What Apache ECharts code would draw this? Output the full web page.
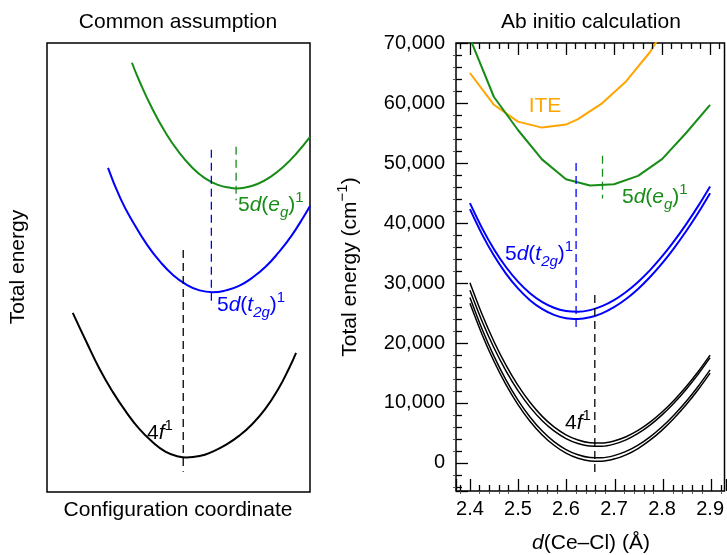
<!DOCTYPE html>
<html><head><meta charset="utf-8">
<script src="https://cdn.jsdelivr.net/npm/echarts@6/dist/echarts.min.js"></script>
<style>html,body{margin:0;padding:0;background:#fff}#c{width:727px;height:555px}</style>
</head><body><div id="c"></div>
<script>
// ---------- Left panel (schematic, normalized units 0..10) ----------
const schemeGreenX = [3.23,3.5,4.0,4.5,5.0,5.5,6.0,6.5,7.0,7.19,7.5,8.0,8.5,9.0,9.5,10];
const schemeGreenY = [9.56,9.17,8.54,8.01,7.58,7.24,6.99,6.84,6.77,6.76,6.775,6.86,7.02,7.25,7.55,7.91];
const schemeBlueX  = [2.32,2.8,3.3,3.8,4.3,4.8,5.3,5.8,6.3,6.8,7.3,7.8,8.3,8.8,9.3,9.8,10];
const schemeBlueY  = [7.22,6.53,5.98,5.51,5.13,4.83,4.62,4.49,4.45,4.49,4.59,4.77,5.01,5.33,5.71,6.17,6.37];
const schemeBlackX = [0.98,1.5,2.0,2.5,3.0,3.5,4.0,4.5,5.0,5.3,5.8,6.3,6.8,7.3,7.8,8.3,8.8,9.2,9.47];
const schemeBlackY = [3.99,3.34,2.74,2.23,1.79,1.41,1.12,0.90,0.79,0.77,0.80,0.90,1.05,1.25,1.51,1.85,2.30,2.75,3.10];
const schemeDropBlack = [[5.18,5.39],[5.18,0.45]];
const schemeDropBlue  = [[6.25,7.62],[6.25,4.16]];
const schemeDropGreen = [[7.19,7.69],[7.19,6.50]];

// ---------- Right panel (ab initio) ----------
const dCeCl = [2.400,2.425,2.450,2.475,2.500,2.525,2.550,2.575,2.600,2.625,2.650,2.675,2.700,2.725,2.750,2.775,2.800,2.825,2.850,2.875,2.900];
const f1a  = [30030,24820,20250,16300,12920,10110,7810,6010,4690,3820,3370,3330,3680,4380,5430,6810,8490,10460,12710,15210,17970];
const f1b  = [28780,23670,19200,15350,12050,9310,7080,5340,4070,3240,2810,2780,3140,3850,4920,6310,8010,9990,12260,14770,17550];
const f1c  = [27580,22370,17800,13850,10470,7660,5360,3560,2240,1370,920,880,1230,1930,2980,4360,6040,8010,10260,12760,15520];
const f1d  = [26630,21470,16950,13050,9730,6970,4720,2960,1650,780,340,300,650,1360,2410,3800,5480,7450,9700,12200,14970];
const t2gA = [43300,39180,35630,32660,30220,28290,26850,25870,25330,25210,25480,26140,27150,28500,30170,32150,34420,36970,39770,42810,46100];
const t2gB = [42300,38150,34570,31570,29100,27140,25680,24680,24130,24010,24280,24940,25960,27320,29000,30990,33260,35820,38620,41660,44950];
const egD = [2.40,2.45,2.50,2.55,2.60,2.65,2.70,2.75,2.80,2.85,2.90];
const egE = [70800,61000,55500,50600,47300,46250,46450,47850,50650,55000,59700];
const iteD = [2.40,2.45,2.50,2.55,2.60,2.625,2.675,2.725,2.775,2.825];
const iteE = [65000,59700,56900,55900,56400,57300,59950,63600,68500,75000];
const dropBlack = [[2.66,28000],[2.66,-1800]];
const dropBlue  = [[2.621,50000],[2.621,22000]];
const dropGreen = [[2.676,51200],[2.676,44100]];

const xTickLabels = [2.4,2.5,2.6,2.7,2.8,2.9];
const xMinorTicks = [2.38,2.42,2.44,2.46,2.48,2.52,2.54,2.56,2.58,2.62,2.64,2.66,2.68,2.72,2.74,2.76,2.78,2.82,2.84,2.86,2.88,2.92];
const yTickLabels = [0,10000,20000,30000,40000,50000,60000,70000];
const X_MIN = 2.371, X_MAX = 2.93, Y_MIN = -4670, Y_MAX = 70000;

const FONT = '"Liberation Sans", Arial, Helvetica, sans-serif';
const GREEN = '#178c17', BLUE = '#0000ff', ORANGE = '#ffa500', BLACK = '#000';

const zip = (xs, ys) => xs.map((x, i) => [x, ys[i]]);
const fmt = v => String(v).replace(/\B(?=(\d{3})+(?!\d))/g, ',');
const tickLS = { color: BLACK, width: 1.3 };

// Right-panel frame geometry
const R = { left: 456, top: 43, width: 270, height: 448 };
const MAJ = 12, MIN = 6;

// thin strips whose split lines act as the inside ticks (bottom and left)
const strips = [
  { dim: 'x', grid: { left: R.left, top: R.top + R.height - MAJ, width: R.width, height: MAJ }, minor: false },
  { dim: 'x', grid: { left: R.left, top: R.top + R.height - MIN, width: R.width, height: MIN }, minor: true },
  { dim: 'y', grid: { left: R.left, top: R.top, width: MAJ, height: R.height }, minor: false },
  { dim: 'y', grid: { left: R.left, top: R.top, width: MIN, height: R.height }, minor: true }
];

function tickAxis(gi, dim, minor) {
  const isX = dim === 'x';
  return {
    type: 'value', gridIndex: gi, show: true,
    min: isX ? X_MIN : Y_MIN, max: isX ? X_MAX : Y_MAX, splitNumber: isX ? 6 : 7,
    axisLine: { show: false, onZero: false }, axisTick: { show: false }, axisLabel: { show: false },
    minorTick: { show: minor, splitNumber: 5 },
    splitLine: { show: !minor, lineStyle: tickLS },
    minorSplitLine: { show: minor, lineStyle: tickLS }
  };
}
const hiddenAxis = (gi) => ({ type: 'value', gridIndex: gi, min: 0, max: 1, show: false });

const xAxes = [
  { type: 'value', gridIndex: 0, min: 0, max: 10, show: false },
  { type: 'value', gridIndex: 1, position: 'bottom', min: X_MIN, max: X_MAX,
    axisLine: { show: false, onZero: false }, axisTick: { show: false }, splitLine: { show: false },
    axisLabel: { show: true, customValues: xTickLabels, formatter: v => Number(v).toFixed(1),
      color: BLACK, fontSize: 20, fontFamily: FONT, margin: 8 } }
];
const yAxes = [
  { type: 'value', gridIndex: 0, min: 0, max: 10, show: false },
  { type: 'value', gridIndex: 1, position: 'left', min: Y_MIN, max: Y_MAX,
    axisLine: { show: false, onZero: false }, axisTick: { show: false }, splitLine: { show: false },
    axisLabel: { show: true, customValues: yTickLabels, formatter: v => fmt(v),
      color: BLACK, fontSize: 20, fontFamily: FONT, margin: 11 } }
];
const grids = [
  { left: 47, top: 43, width: 263, height: 449, show: true, borderColor: BLACK, borderWidth: 1.5 },
  { left: R.left, top: R.top, width: R.width, height: R.height, show: true, borderColor: BLACK, borderWidth: 1.5 }
];
strips.forEach((s) => {
  const gi = grids.length;
  grids.push(Object.assign({ show: false }, s.grid));
  if (s.dim === 'x') { xAxes.push(tickAxis(gi, 'x', s.minor)); yAxes.push(hiddenAxis(gi)); }
  else { yAxes.push(tickAxis(gi, 'y', s.minor)); xAxes.push(hiddenAxis(gi)); }
});

// mirrored top ticks, hanging down from the top frame (lengths converted from px to y units)
const unitsPerPx = (Y_MAX - Y_MIN) / R.height;
const topTick = (x, len) => [{ coord: [x, Y_MAX] }, { coord: [x, Y_MAX - len * unitsPerPx] }];
const topTicks = xTickLabels.map(x => topTick(x, MAJ)).concat(xMinorTicks.map(x => topTick(x, MIN)));

function line(xi, yi, data, color, width, smooth, dashed) {
  return { type: 'line', xAxisIndex: xi, yAxisIndex: yi, data, symbol: 'none', smooth: smooth,
    lineStyle: { color, width, type: dashed ? [8, 5] : 'solid' }, silent: true, animation: false, clip: true };
}

const richBase = (c) => ({
  n: { fontSize: 21, fontFamily: FONT, fill: c, lineHeight: 30 },
  i: { fontSize: 21, fontFamily: FONT, fontStyle: 'italic', fill: c, lineHeight: 30 },
  sub: { fontSize: 15, fontFamily: FONT, fontStyle: 'italic', fill: c, lineHeight: 16, verticalAlign: 'bottom' },
  sup: { fontSize: 15, fontFamily: FONT, fill: c, lineHeight: 14, verticalAlign: 'top' }
});
function rtext(x, y, text, color, align, rot) {
  return { type: 'text', x, y, rotation: rot || 0, silent: true, z: 100,
    style: { text, rich: richBase(color), fill: color, align: align || 'left', verticalAlign: 'middle', font: '21px ' + FONT } };
}

const egSeries = line(1, 1, zip(egD, egE), GREEN, 2, false);
egSeries.markLine = { silent: true, animation: false, symbol: ['none', 'none'], label: { show: false },
  lineStyle: { color: BLACK, width: 1.3, type: 'solid' }, emphasis: { disabled: true }, data: topTicks };

const chart = echarts.init(document.getElementById('c'), null, { renderer: 'canvas' });
chart.setOption({
  animation: false,
  backgroundColor: '#fff',
  grid: grids,
  xAxis: xAxes,
  yAxis: yAxes,
  series: [
    line(0, 0, zip(schemeGreenX, schemeGreenY), GREEN, 2, true),
    line(0, 0, zip(schemeBlueX, schemeBlueY), BLUE, 2, true),
    line(0, 0, zip(schemeBlackX, schemeBlackY), BLACK, 2, true),
    line(0, 0, schemeDropBlack, BLACK, 1.3, false, true),
    line(0, 0, schemeDropBlue, BLUE, 1.3, false, true),
    line(0, 0, schemeDropGreen, GREEN, 1.3, false, true),

    line(1, 1, zip(iteD, iteE), ORANGE, 2, false),
    egSeries,
    line(1, 1, zip(dCeCl, t2gA), BLUE, 2, 0.3),
    line(1, 1, zip(dCeCl, t2gB), BLUE, 2, 0.3),
    line(1, 1, zip(dCeCl, f1a), BLACK, 1.5, 0.3),
    line(1, 1, zip(dCeCl, f1b), BLACK, 1.5, 0.3),
    line(1, 1, zip(dCeCl, f1c), BLACK, 1.5, 0.3),
    line(1, 1, zip(dCeCl, f1d), BLACK, 1.5, 0.3),
    line(1, 1, dropBlack, BLACK, 1.3, false, true),
    line(1, 1, dropBlue, BLUE, 1.3, false, true),
    line(1, 1, dropGreen, GREEN, 1.3, false, true)
  ],
  graphic: [
    rtext(178, 22, '{n|Common assumption}', BLACK, 'center'),
    rtext(591, 22, '{n|Ab initio calculation}', BLACK, 'center'),
    rtext(178, 510, '{n|Configuration coordinate}', BLACK, 'center'),
    rtext(18, 267, '{n|Total energy}', BLACK, 'center', Math.PI / 2),
    rtext(350, 267, '{n|Total energy (cm}{sup|−1}{n|)}', BLACK, 'center', Math.PI / 2),
    rtext(591, 543, '{i|d}{n|(Ce–Cl) (Å)}', BLACK, 'center'),
    rtext(238, 205, '{n|5}{i|d}{n|(}{i|e}{sub|g}{n|)}{sup|1}', GREEN, 'left'),
    rtext(217, 305, '{n|5}{i|d}{n|(}{i|t}{sub|2g}{n|)}{sup|1}', BLUE, 'left'),
    rtext(147, 433, '{n|4}{i|f}{sup|1}', BLACK, 'left'),
    rtext(545, 106, '{n|ITE}', ORANGE, 'center'),
    rtext(622, 197, '{n|5}{i|d}{n|(}{i|e}{sub|g}{n|)}{sup|1}', GREEN, 'left'),
    rtext(505, 254, '{n|5}{i|d}{n|(}{i|t}{sub|2g}{n|)}{sup|1}', BLUE, 'left'),
    rtext(565, 423, '{n|4}{i|f}{sup|1}', BLACK, 'left')
  ]
});
</script>
</body></html>
